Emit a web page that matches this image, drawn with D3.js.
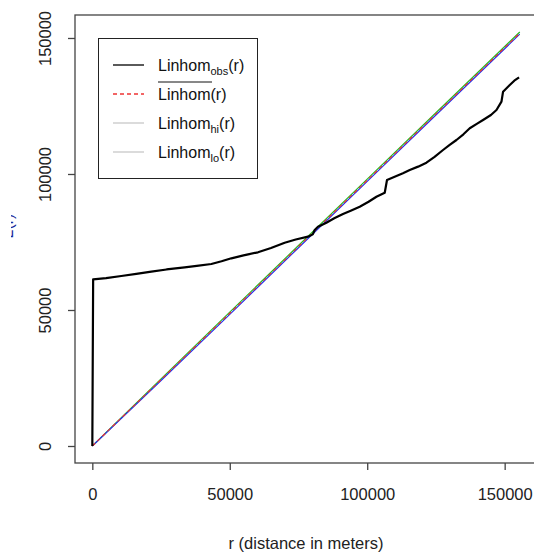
<!DOCTYPE html>
<html>
<head>
<meta charset="utf-8">
<script src="https://cdn.jsdelivr.net/npm/d3@7/dist/d3.min.js"></script>
<style>
  html, body { margin: 0; padding: 0; background: #fff; }
  svg { display: block; font-family: "Liberation Sans", Arial, sans-serif; }
</style>
</head>
<body>
<svg id="chart" width="534" height="556"></svg>
<script>
// Observed inhomogeneous L-function (distance r in metres, value in metres)
const obsR = [0, 300, 5000, 10550, 16000, 21470, 27000, 33590, 38000, 43310, 47000, 50580,
  55000, 60260, 65000, 69980, 74000, 78460, 80200, 80900, 82100, 85150, 88000, 91190,
  94000, 97270, 100500, 103350, 106370, 107200, 110630, 113000, 115470, 118500, 121540,
  124500, 127580, 130000, 132460, 135000, 137300, 140000, 142140, 145000, 147020, 148840,
  149420, 151860, 153500, 155240];
const obsL = [0, 61290, 61700, 62500, 63300, 64080, 64900, 65700, 66200, 66910, 67900, 69000,
  70100, 71210, 72800, 74740, 75900, 76950, 77800, 79410, 80620, 82100, 83700, 85290,
  86500, 87980, 89800, 91650, 93120, 97790, 99260, 100300, 101470, 102700, 104150,
  106300, 108820, 110700, 112500, 114600, 116800, 118500, 119850, 121700, 123530, 126580,
  130260, 132720, 134300, 135550];

// Theoretical value and simulation envelope
const theoR = [0, 25000, 50000, 75000, 100000, 125000, 155500];
const theoL = [0, 24400, 48800, 73300, 97700, 122100, 151800];
const hiL   = [0, 24700, 49200, 73700, 98100, 122500, 152200];
const loL   = [0, 24100, 48400, 72900, 97300, 121700, 151400];

const xTicks = [0, 50000, 100000, 150000];
const yTicks = [0, 50000, 100000, 150000];

const svg = d3.select("#chart");

// plotting region (box)
const box = { left: 75, right: 536, top: 15, bottom: 463 };
const x = d3.scaleLinear().domain([-6300, 161400]).range([box.left, box.right]);
const y = d3.scaleLinear().domain([-6250, 158450]).range([box.bottom, box.top]);

const lineOf = (rs, ls) => d3.line().x((d, i) => x(rs[i])).y((d, i) => y(ls[i]))(rs);

// envelope and theoretical curves
svg.append("path").attr("d", lineOf(theoR, hiL))
  .attr("fill", "none").attr("stroke", "#22bb22").attr("stroke-width", 1.2);
svg.append("path").attr("d", lineOf(theoR, loL))
  .attr("fill", "none").attr("stroke", "#2233ee").attr("stroke-width", 1.2);
svg.append("path").attr("d", lineOf(theoR, theoL))
  .attr("fill", "none").attr("stroke", "#ee3333").attr("stroke-width", 1.2)
  .attr("stroke-dasharray", "4,3");

// observed curve
svg.append("path").attr("d", lineOf(obsR, obsL))
  .attr("fill", "none").attr("stroke", "#000").attr("stroke-width", 2.2)
  .attr("stroke-linejoin", "round");

// box around the plotting region
svg.append("rect")
  .attr("x", box.left).attr("y", box.top)
  .attr("width", box.right - box.left).attr("height", box.bottom - box.top)
  .attr("fill", "none").attr("stroke", "#444").attr("stroke-width", 1.3);

// x axis
const xAxis = svg.append("g").attr("transform", `translate(0,${box.bottom})`)
  .call(d3.axisBottom(x).tickValues(xTicks).tickSize(7).tickPadding(18).tickFormat(d3.format("d")));
xAxis.select(".domain").remove();
xAxis.selectAll("line").attr("stroke", "#444").attr("stroke-width", 1.3);
xAxis.selectAll("text").attr("font-size", 16.5).attr("fill", "#222")
  .attr("font-family", "'Liberation Sans', Arial, sans-serif");

// y axis (labels parallel to the axis)
const yAxis = svg.append("g").attr("transform", `translate(${box.left},0)`)
  .call(d3.axisLeft(y).tickValues(yTicks).tickSize(7).tickFormat(d3.format("d")));
yAxis.select(".domain").remove();
yAxis.selectAll("line").attr("stroke", "#444").attr("stroke-width", 1.3);
yAxis.selectAll("text")
  .attr("x", 0).attr("y", 0).attr("dy", null)
  .attr("text-anchor", "middle")
  .attr("transform", `translate(${51 - box.left},0) rotate(-90)`)
  .attr("font-size", 16.5).attr("fill", "#222")
  .attr("font-family", "'Liberation Sans', Arial, sans-serif");

// axis titles
svg.append("text").attr("x", 306).attr("y", 549)
  .attr("text-anchor", "middle").attr("font-size", 16.5).attr("fill", "#222")
  .text("r (distance in meters)");

svg.append("clipPath").attr("id", "ylabClip")
  .append("rect").attr("x", 11).attr("y", 200).attr("width", 10).attr("height", 50);
svg.append("g").attr("clip-path", "url(#ylabClip)")
  .append("text")
  .attr("transform", "translate(13,226) rotate(-90)")
  .attr("text-anchor", "middle").attr("font-size", 16).attr("fill", "#1a2a9a")
  .text("L(r)");

// legend
const leg = svg.append("g");
leg.append("rect").attr("x", 98.5).attr("y", 38.5).attr("width", 159).attr("height", 140)
  .attr("fill", "#fff").attr("stroke", "#222").attr("stroke-width", 1);

const legRows = [
  { y: 65, color: "#000", dash: null, width: 1.3, sub: "obs" },
  { y: 94, color: "#ee3333", dash: "4,3", width: 1.3, sub: null, bar: true },
  { y: 123, color: "#c8c8c8", dash: null, width: 1.3, sub: "hi" },
  { y: 152, color: "#c8c8c8", dash: null, width: 1.3, sub: "lo" }
];
legRows.forEach(r => {
  leg.append("line").attr("x1", 113).attr("x2", 144).attr("y1", r.y).attr("y2", r.y)
    .attr("stroke", r.color).attr("stroke-width", r.width)
    .attr("stroke-dasharray", r.dash);
  const t = leg.append("text").attr("x", 158).attr("y", r.y + 6)
    .attr("font-size", 16).attr("fill", "#111");
  t.append("tspan").text("Linhom");
  if (r.sub) {
    t.append("tspan").attr("font-size", 11).attr("dy", 4).text(r.sub);
    t.append("tspan").attr("dy", -4).text("(r)");
  } else {
    t.append("tspan").text("(r)");
  }
  if (r.bar) {
    leg.append("line").attr("x1", 158).attr("x2", 212).attr("y1", r.y - 12).attr("y2", r.y - 12)
      .attr("stroke", "#111").attr("stroke-width", 1);
  }
});
</script>
</body>
</html>
